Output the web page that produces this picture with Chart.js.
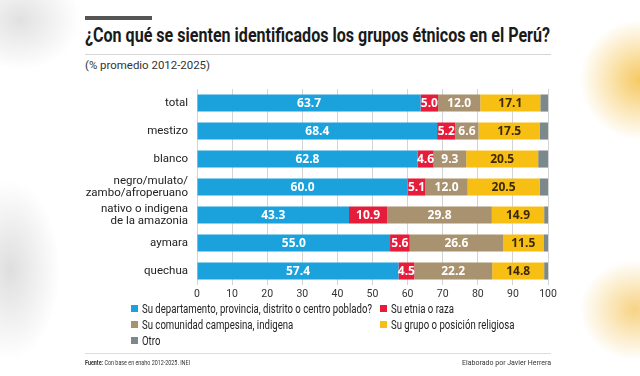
<!DOCTYPE html>
<html>
<head>
<meta charset="utf-8">
<script src="https://cdn.jsdelivr.net/npm/chart.js@4.4.0/dist/chart.umd.min.js"></script>
<style>
  html, body { margin: 0; padding: 0; }
  body {
    width: 640px; height: 376px; position: relative; overflow: hidden;
    font-family: "Roboto", "Liberation Sans", sans-serif;
    background:
      radial-gradient(ellipse 60px 50px at 20px 20px, rgba(200,200,200,0.55), rgba(255,255,255,0) 100%),
      radial-gradient(ellipse 50px 90px at 10px 270px, rgba(200,200,200,0.6), rgba(255,255,255,0) 100%),
      radial-gradient(ellipse 60px 60px at 640px 80px, rgba(245,195,80,0.9), rgba(255,255,255,0) 100%),
      radial-gradient(ellipse 55px 50px at 635px 310px, rgba(245,200,100,0.8), rgba(255,255,255,0) 100%),
      #ffffff;
  }
  .fit { position: absolute; white-space: nowrap; transform-origin: 0 0; }
  #topbar { position: absolute; left: 85px; top: 16px; width: 67px; height: 4px; background: #555; }
  #title { left: 85px; top: 23px; font-size: 21px; font-weight: bold; color: #1a1a1a; }
  #rule1 { position: absolute; left: 85px; top: 54px; width: 466px; height: 1px; background: #d6d6d6; }
  #subtitle { left: 85px; top: 58px; font-size: 11.5px; color: #333; }
  #wrap { position: absolute; left: 60px; top: 74px; width: 500px; height: 230px; }
  #legend { position: absolute; left: 131px; top: 302px; width: 430px; font-size: 12px; color: #222; }
  .item { position: absolute; white-space: nowrap; }
  .item span.sq { display: inline-block; width: 7px; height: 7px; margin-right: 4px; vertical-align: 1px; }
  .item span.tx { display: inline-block; transform-origin: 0 50%; }
  #rule2 { position: absolute; left: 85px; top: 353px; width: 466px; height: 1px; background: #ddd; }
  #fuente { left: 85px; top: 358px; font-size: 7.5px; color: #333; }
  #autor { left: 462px; top: 358px; font-size: 7.5px; color: #333; }
</style>
</head>
<body>
<div id="topbar"></div>
<div id="title" class="fit">¿Con qué se sienten identificados los grupos étnicos en el Perú?</div>
<div id="rule1"></div>
<div id="subtitle" class="fit">(% promedio 2012-2025)</div>
<div id="wrap"><canvas id="chart"></canvas></div>
<div id="legend"></div>
<div id="rule2"></div>
<div id="fuente" class="fit"><b>Fuente:</b> Con base en enaho 2012-2025. INEI</div>
<div id="autor" class="fit">Elaborado por Javier Herrera</div>

<script>
// categorias (grupos etnicos)
const grupos = ['total', 'mestizo', 'blanco', ['negro/mulato/', 'zambo/afroperuano'],
  ['nativo o indigena', 'de la amazonia'], 'aymara', 'quechua'];

// valores por serie (%)
const departamento = [63.7, 68.4, 62.8, 60.0, 43.3, 55.0, 57.4];
const etnia = [5.0, 5.2, 4.6, 5.1, 10.9, 5.6, 4.5];
const comunidad = [12.0, 6.6, 9.3, 12.0, 29.8, 26.6, 22.2];
const religion = [17.1, 17.5, 20.5, 20.5, 14.9, 11.5, 14.8];
const otro = [2.2, 2.3, 2.8, 2.4, 1.1, 1.3, 1.1];

const ticksX = [0, 10, 20, 30, 40, 50, 60, 70, 80, 90, 100];

const series = [
  { label: 'Su departamento, provincia, distrito o centro poblado?', data: departamento, color: '#1ba1dc', txt: '#ffffff' },
  { label: 'Su etnia o raza', data: etnia, color: '#e51c3a', txt: '#ffffff' },
  { label: 'Su comunidad campesina, indigena', data: comunidad, color: '#a8926f', txt: '#ffffff' },
  { label: 'Su grupo o posición religiosa', data: religion, color: '#f7be14', txt: '#3b2a05' },
  { label: 'Otro', data: otro, color: '#7c898c', txt: null }
];

// etiquetas dentro de las barras
const barLabels = {
  id: 'barLabels',
  afterDatasetsDraw(chart) {
    const ctx = chart.ctx;
    ctx.save();
    ctx.font = 'bold 12px "Open Sans", "DejaVu Sans", sans-serif';
    ctx.textAlign = 'center';
    ctx.textBaseline = 'middle';
    chart.data.datasets.forEach((ds, i) => {
      if (!ds.txtColor) return;
      const meta = chart.getDatasetMeta(i);
      meta.data.forEach((bar, j) => {
        const x = (bar.x + bar.base) / 2;
        ctx.fillStyle = ds.txtColor;
        ctx.fillText(ds.data[j].toFixed(1), x, bar.y + 1);
      });
    });
    ctx.restore();
  }
};

const chart = new Chart(document.getElementById('chart'), {
  type: 'bar',
  data: {
    labels: grupos,
    datasets: series.map(s => ({
      label: s.label,
      data: s.data,
      backgroundColor: s.color,
      txtColor: s.txt,
      borderWidth: 0,
      barPercentage: 0.61,
      categoryPercentage: 1
    }))
  },
  options: {
    indexAxis: 'y',
    responsive: true,
    maintainAspectRatio: false,
    animation: false,
    layout: { padding: { top: 3, right: 12, left: 0, bottom: 0 } },
    plugins: { legend: { display: false }, tooltip: { enabled: false } },
    scales: {
      x: {
        stacked: true,
        min: 0, max: 100,
        afterBuildTicks: axis => { axis.ticks = ticksX.map(v => ({ value: v })); },
        afterFit: axis => { axis.height = 19; },
        grid: { color: '#d4d4d4', drawTicks: false },
        border: { display: false },
        ticks: { padding: 3, color: '#333', font: { size: 10.5, family: 'Roboto, sans-serif' } }
      },
      y: {
        stacked: true,
        afterFit: axis => { axis.width = 137; },
        grid: { display: false, drawTicks: false },
        border: { display: false },
        ticks: { padding: 9, color: '#222', font: { size: 11.5, family: 'Roboto, sans-serif', lineHeight: 1.05 } }
      }
    }
  },
  plugins: [barLabels]
});

// leyenda en dos columnas
const legend = document.getElementById('legend');
const pos = [[0, 0], [249, 0], [0, 16], [249, 16], [0, 32]];
chart.data.datasets.forEach((ds, i) => {
  const d = document.createElement('div');
  d.className = 'item';
  d.style.left = pos[i][0] + 'px';
  d.style.top = pos[i][1] + 'px';
  d.innerHTML = '<span class="sq" style="background:' + ds.backgroundColor + '"></span><span class="tx">' + ds.label + '</span>';
  legend.appendChild(d);
});

// ajustar textos al ancho de la referencia (tipografia condensada)
function fitWidth(el, w) {
  const nat = el.getBoundingClientRect().width;
  el.style.transform = 'scaleX(' + (w / nat) + ')';
}
fitWidth(document.getElementById('title'), 465);
fitWidth(document.getElementById('subtitle'), 125);
fitWidth(document.getElementById('fuente'), 105);
fitWidth(document.getElementById('autor'), 89);
const first = legend.querySelector('.tx');
const k = 230 / first.getBoundingClientRect().width;
legend.querySelectorAll('.tx').forEach(t => { t.style.transform = 'scaleX(' + k + ')'; });
</script>
</body>
</html>
